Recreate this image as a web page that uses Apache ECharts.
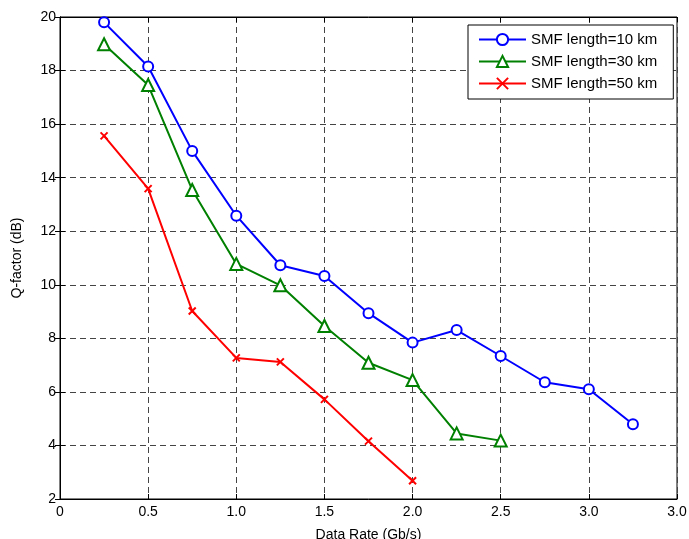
<!DOCTYPE html>
<html><head><meta charset="utf-8">
<script src="https://cdn.jsdelivr.net/npm/echarts@6/dist/echarts.min.js"></script>
<style>html,body{margin:0;padding:0;background:#fff}#c{width:689px;height:539px}</style>
</head><body><div id="c"></div>
<script>
const xTickValues = [0, 0.5, 1.0, 1.5, 2.0, 2.5, 3.0, 3.5];
const xTickLabels = ['0', '0.5', '1.0', '1.5', '2.0', '2.5', '3.0', '3.0'];
const rate10 = [0.25, 0.5, 0.75, 1.0, 1.25, 1.5, 1.75, 2.0, 2.25, 2.5, 2.75, 3.0, 3.25];
const q10 = [19.8, 18.15, 15.0, 12.58, 10.73, 10.33, 8.94, 7.84, 8.31, 7.34, 6.36, 6.10, 4.79];
const rate30 = [0.25, 0.5, 0.75, 1.0, 1.25, 1.5, 1.75, 2.0, 2.25, 2.5];
const q30 = [18.98, 17.46, 13.54, 10.78, 9.98, 8.46, 7.09, 6.44, 4.45, 4.18];
const rate50 = [0.25, 0.5, 0.75, 1.0, 1.25, 1.5, 1.75, 2.0];
const q50 = [15.56, 13.59, 9.02, 7.27, 7.12, 5.72, 4.16, 2.68];
const seriesNames = ['SMF length=10 km', 'SMF length=30 km', 'SMF length=50 km'];

const zip = (a, b) => a.map((v, i) => [v, b[i]]);
const font = 'Arial, "Liberation Sans", sans-serif';
const chart = echarts.init(document.getElementById('c'));
const xfmt = v => { const i = xTickValues.findIndex(t => Math.abs(t - v) < 1e-9); return i >= 0 ? xTickLabels[i] : ''; };
const crossPath = 'path://M0,0L10,10M10,0L0,10';

chart.setOption({
  animation: false,
  backgroundColor: '#fff',
  grid: { left: 60, right: 12, top: 17, bottom: 40, containLabel: false, outerBoundsMode: 'none', show: true, borderColor: '#000', borderWidth: 1, backgroundColor: 'transparent' },
  legend: {
    orient: 'vertical', left: 468, top: 25, itemWidth: 47, itemHeight: 14, itemGap: 7,
    backgroundColor: '#fff', borderColor: '#000', borderWidth: 1, padding: [7, 16, 8, 10],
    textStyle: { fontFamily: font, fontSize: 15, color: '#000' },
    data: seriesNames
  },
  xAxis: [{
    type: 'value', min: 0, max: 3.5, interval: 0.5,
    name: 'Data Rate (Gb/s)', nameLocation: 'middle', nameGap: 29,
    nameTextStyle: { fontFamily: font, fontSize: 14, color: '#000' },
    axisLine: { lineStyle: { color: '#000' } },
    axisTick: { inside: true, length: 5, lineStyle: { color: '#000' } },
    axisLabel: { fontFamily: font, fontSize: 14, color: '#000', margin: 6, formatter: xfmt },
    splitLine: { show: true, lineStyle: { color: '#444', type: [6, 4], width: 1 } }
  }, {
    type: 'value', position: 'top', min: 0, max: 3.5, interval: 0.5,
    axisLine: { lineStyle: { color: '#000' } },
    axisTick: { inside: true, length: 5, lineStyle: { color: '#000' } },
    axisLabel: { show: false }, splitLine: { show: false }
  }],
  yAxis: [{
    type: 'value', min: 2, max: 20, interval: 2,
    name: 'Q-factor (dB)', nameLocation: 'middle', nameGap: 36, nameRotate: 90,
    nameTextStyle: { fontFamily: font, fontSize: 14, color: '#000' },
    axisLine: { lineStyle: { color: '#000' } },
    axisTick: { inside: true, length: 5, lineStyle: { color: '#000' } },
    axisLabel: { fontFamily: font, fontSize: 14, color: '#000', margin: 4 },
    splitLine: { show: true, lineStyle: { color: '#444', type: [6, 4], width: 1 } }
  }, {
    type: 'value', position: 'right', min: 2, max: 20, interval: 2,
    axisLine: { lineStyle: { color: '#000' } },
    axisTick: { inside: true, length: 5, lineStyle: { color: '#000' } },
    axisLabel: { show: false }, splitLine: { show: false }
  }],
  series: [{
    name: seriesNames[0], type: 'line', data: zip(rate10, q10),
    symbol: 'emptyCircle', symbolSize: 10,
    lineStyle: { color: '#0000ff', width: 2 },
    itemStyle: { color: '#0000ff', borderColor: '#0000ff', borderWidth: 2 }
  }, {
    name: seriesNames[1], type: 'line', data: zip(rate30, q30),
    symbol: 'emptyTriangle', symbolSize: 12,
    lineStyle: { color: '#008000', width: 2 },
    itemStyle: { color: '#008000', borderColor: '#008000', borderWidth: 2 }
  }, {
    name: seriesNames[2], type: 'line', data: zip(rate50, q50),
    symbol: crossPath, symbolSize: 7,
    lineStyle: { color: '#ff0000', width: 2 },
    itemStyle: { color: '#ff0000', borderColor: '#ff0000', borderWidth: 2 }
  }]
});
</script>
</body></html>
